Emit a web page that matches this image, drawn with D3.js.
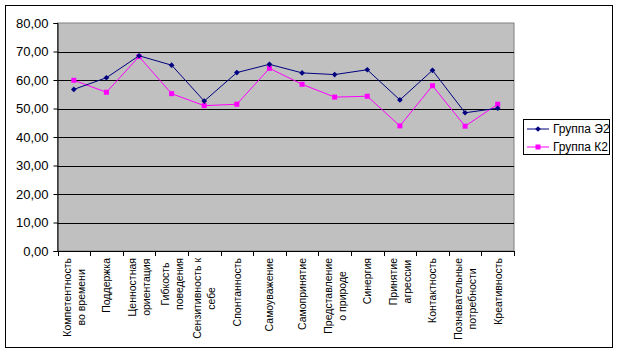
<!DOCTYPE html>
<html>
<head>
<meta charset="utf-8">
<script src="https://cdn.jsdelivr.net/npm/d3@7"></script>
<style>
  body { margin: 0; background: #fff; }
  svg { display: block; font-family: "Liberation Sans", Arial, sans-serif; }
</style>
</head>
<body>
<div id="chart"></div>
<script>
// categories (line breaks as in the original axis labels)
const categories = [
    ["Компетентность", "во времени"],
    ["Поддержка"],
    ["Ценностная", "ориентация"],
    ["Гибкость", "поведения"],
    ["Сензитивность к", "себе"],
    ["Спонтанность"],
    ["Самоуважение"],
    ["Самопринятие"],
    ["Представление", "о природе"],
    ["Синергия"],
    ["Принятие", "агрессии"],
    ["Контактность"],
    ["Познавательные", "потребности"],
    ["Креативность"]
];

const groupE2 = [56.7, 60.8, 68.5, 65.2, 52.6, 62.6, 65.5, 62.5, 61.9, 63.6, 53.0, 63.4, 48.5, 50.1];
const groupK2 = [59.9, 55.7, 68.2, 55.2, 51.0, 51.5, 64.1, 58.5, 54.0, 54.3, 43.9, 58.0, 43.8, 51.5];

const seriesNames = ["Группа Э2", "Группа К2"];
const yTicks = [0, 10, 20, 30, 40, 50, 60, 70, 80];

const W = 619, H = 354;
const plot = {left: 57.5, top: 23, right: 514, bottom: 251};

const svg = d3.select("#chart").append("svg")
    .attr("width", W)
    .attr("height", H);

// chart area border
svg.append("rect")
    .attr("x", 5.5).attr("y", 5.5)
    .attr("width", 607).attr("height", 342)
    .attr("fill", "#fff")
    .attr("stroke", "#000");

const x = d3.scaleBand()
    .domain(d3.range(categories.length))
    .range([plot.left, plot.right]);

const y = d3.scaleLinear()
    .domain([0, 80])
    .range([plot.bottom, plot.top]);

// plot area
svg.append("rect")
    .attr("x", plot.left).attr("y", plot.top)
    .attr("width", plot.right - plot.left)
    .attr("height", plot.bottom - plot.top)
    .attr("fill", "#c0c0c0")
    .attr("stroke", "#808080");

// gridlines
svg.append("g")
    .selectAll("line")
    .data(yTicks.filter(d => d > 0 && d < 80))
    .enter().append("line")
    .attr("x1", plot.left).attr("x2", plot.right)
    .attr("y1", d => Math.round(y(d)) + 0.5)
    .attr("y2", d => Math.round(y(d)) + 0.5)
    .attr("stroke", "#000");

// y axis
const yAxis = svg.append("g")
    .attr("transform", `translate(${plot.left},0)`)
    .call(d3.axisLeft(y).tickValues(yTicks).tickSize(4).tickPadding(5)
        .tickFormat(d => d3.format(".2f")(d).replace(".", ",")));
yAxis.select(".domain").attr("stroke", "#000");
yAxis.selectAll("text")
    .attr("font-size", 13)
    .attr("font-family", "Liberation Sans, Arial, sans-serif")
    .attr("fill", "#000");

// x axis: ticks between categories
const xAxis = svg.append("g");
xAxis.append("line")
    .attr("x1", plot.left).attr("x2", plot.right)
    .attr("y1", plot.bottom + 0.5).attr("y2", plot.bottom + 0.5)
    .attr("stroke", "#000");
xAxis.selectAll(".tick")
    .data(d3.range(categories.length + 1))
    .enter().append("line")
    .attr("x1", i => Math.round(plot.left + i * x.step()) + 0.5)
    .attr("x2", i => Math.round(plot.left + i * x.step()) + 0.5)
    .attr("y1", plot.bottom)
    .attr("y2", plot.bottom + 5)
    .attr("stroke", "#000");

// rotated category labels, lines centred on each other, block top aligned
const labelTop = 258;
const lineGap = 14;
categories.forEach((lines, i) => {
    const cx = x(i) + x.bandwidth() / 2;
    const g = svg.append("g");
    const texts = lines.map((t, j) => g.append("text")
        .attr("font-size", 10.5)
        .attr("text-anchor", "middle")
        .attr("dominant-baseline", "central")
        .text(t));
    const maxLen = d3.max(texts, t => t.node().getComputedTextLength());
    texts.forEach((t, j) => {
        const lx = cx + (j - (lines.length - 1) / 2) * lineGap;
        const ly = labelTop + maxLen / 2;
        t.attr("transform", `translate(${lx},${ly}) rotate(-90)`);
    });
});

// lines and markers
const line = d3.line()
    .x((d, i) => x(i) + x.bandwidth() / 2)
    .y(d => y(d));

// diamond = square turned by 45 degrees
const series = [
    {name: seriesNames[0], values: groupE2, color: "#000080", size: 16, rot: 45},
    {name: seriesNames[1], values: groupK2, color: "#ff00ff", size: 25, rot: 0}
];

series.slice().reverse().forEach(s => {
    svg.append("path")
        .attr("d", line(s.values))
        .attr("fill", "none")
        .attr("stroke", s.color)
        .attr("stroke-width", 1);
    svg.append("g")
        .selectAll("path")
        .data(s.values)
        .enter().append("path")
        .attr("transform", (d, i) => `translate(${x(i) + x.bandwidth() / 2},${y(d)}) rotate(${s.rot})`)
        .attr("d", d3.symbol().type(d3.symbolSquare).size(s.size))
        .attr("fill", s.color);
});

// legend
const legend = svg.append("g");
legend.append("rect")
    .attr("x", 523.5).attr("y", 119.5)
    .attr("width", 86).attr("height", 35)
    .attr("fill", "#fff")
    .attr("stroke", "#000");

series.forEach((s, i) => {
    const ly = 129 + i * 18;
    legend.append("line")
        .attr("x1", 527).attr("x2", 549)
        .attr("y1", ly).attr("y2", ly)
        .attr("stroke", s.color);
    legend.append("path")
        .attr("transform", `translate(538,${ly}) rotate(${s.rot})`)
        .attr("d", d3.symbol().type(d3.symbolSquare).size(s.size))
        .attr("fill", s.color);
    legend.append("text")
        .attr("x", 553).attr("y", ly)
        .attr("dominant-baseline", "central")
        .attr("font-size", 12)
        .text(s.name);
});
</script>
</body>
</html>
